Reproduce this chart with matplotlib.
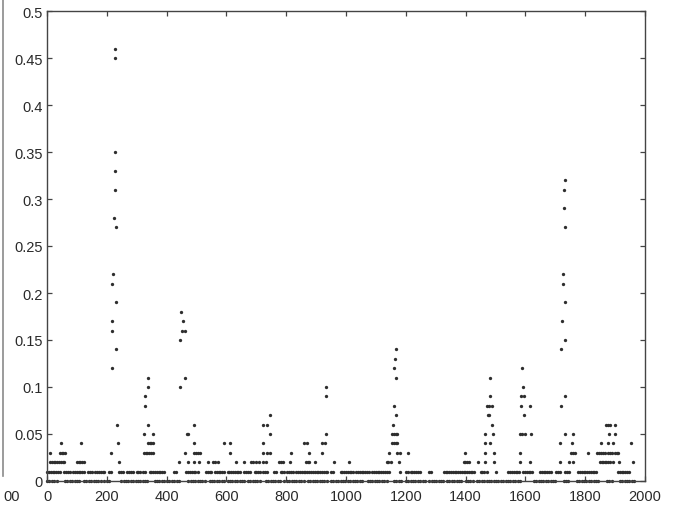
import matplotlib
matplotlib.use("Agg")
import matplotlib.pyplot as plt
from matplotlib.lines import Line2D

plt.rcParams['font.family'] = ['Liberation Sans', 'DejaVu Sans']

# dots sitting on the zero line
x_level_0 = [0, 8, 16, 24, 32, 60, 68, 76, 84, 92, 100, 108, 124, 132, 140, 148, 156, 164,
             172, 180, 192, 200, 208, 248, 256, 264, 272, 280, 288, 296, 304, 312, 320, 328,
             336, 360, 368, 376, 384, 392, 400, 408, 418, 426, 434, 442, 472, 480, 488, 496,
             504, 512, 520, 528, 544, 552, 560, 568, 576, 584, 592, 604, 612, 620, 628, 636,
             644, 652, 660, 672, 680, 688, 696, 704, 712, 732, 740, 748, 756, 764, 772, 780,
             794, 802, 810, 818, 826, 834, 842, 850, 858, 872, 880, 888, 896, 904, 912, 920,
             928, 936, 950, 958, 966, 974, 982, 990, 998, 1006, 1014, 1022, 1030, 1038, 1046,
             1054, 1072, 1080, 1088, 1096, 1104, 1112, 1120, 1128, 1136, 1160, 1168, 1176,
             1184, 1200, 1208, 1216, 1224, 1232, 1240, 1248, 1256, 1264, 1278, 1286, 1294,
             1302, 1310, 1318, 1326, 1338, 1346, 1354, 1362, 1370, 1378, 1386, 1400, 1408,
             1416, 1424, 1438, 1446, 1454, 1462, 1470, 1478, 1486, 1494, 1502, 1510, 1518,
             1526, 1534, 1542, 1550, 1558, 1566, 1574, 1582, 1628, 1636, 1644, 1652, 1660,
             1668, 1676, 1684, 1692, 1700, 1728, 1736, 1744, 1772, 1780, 1788, 1796, 1804,
             1812, 1820, 1828, 1836, 1844, 1872, 1880, 1888, 1916, 1924, 1932, 1940, 1948,
             1956, 1964]

# dots at 0.01
x_level_1 = [1, 7, 13, 19, 25, 31, 37, 43, 58, 64, 70, 77, 88, 94, 100, 106, 112, 118, 124,
             138, 144, 149, 162, 168, 174, 180, 186, 192, 207, 213, 242, 248, 254, 269, 275,
             281, 287, 300, 306, 312, 321, 327, 343, 349, 355, 361, 367, 373, 379, 385, 391,
             424, 430, 466, 472, 478, 484, 490, 496, 505, 532, 538, 544, 550, 562, 568, 574,
             580, 586, 592, 604, 610, 616, 622, 628, 634, 640, 646, 660, 666, 672, 678, 694,
             700, 706, 712, 724, 730, 736, 760, 766, 781, 787, 793, 804, 810, 816, 822, 834,
             840, 846, 852, 858, 864, 870, 876, 882, 890, 896, 902, 908, 914, 920, 926, 932,
             938, 950, 956, 982, 988, 994, 1000, 1006, 1012, 1018, 1024, 1034, 1040, 1046,
             1052, 1058, 1064, 1070, 1076, 1088, 1094, 1100, 1106, 1112, 1118, 1124, 1130,
             1138, 1144, 1182, 1199, 1208, 1216, 1222, 1228, 1234, 1240, 1246, 1278, 1284,
             1327, 1333, 1339, 1345, 1351, 1357, 1363, 1369, 1375, 1381, 1387, 1393, 1399,
             1405, 1411, 1417, 1423, 1429, 1450, 1456, 1462, 1472, 1500, 1543, 1549, 1555,
             1561, 1567, 1573, 1579, 1593, 1599, 1605, 1611, 1617, 1623, 1649, 1655, 1661,
             1667, 1673, 1679, 1685, 1704, 1710, 1716, 1734, 1740, 1746, 1777, 1783, 1789,
             1795, 1801, 1807, 1813, 1819, 1825, 1831, 1837, 1910, 1916, 1922, 1928, 1934,
             1940, 1946]

# dots at 0.02, 0.03, 0.04
x_level_2 = [10, 16, 22, 28, 34, 40, 46, 52, 58, 100, 106, 112, 118, 124, 240, 441, 473,
             491, 510, 538, 555, 563, 571, 632, 660, 682, 690, 699, 710, 721, 732, 777, 783,
             788, 812, 866, 872, 877, 897, 960, 1010, 1136, 1142, 1149, 1177, 1393, 1399,
             1405, 1410, 1443, 1466, 1494, 1582, 1616, 1716, 1747, 1760, 1849, 1855, 1860,
             1866, 1871, 1876, 1882, 1893, 1913, 1960]
x_level_3 = [10, 43, 49, 55, 60, 215, 324, 330, 336, 342, 348, 354, 462, 490, 497, 504,
             511, 613, 721, 735, 747, 816, 877, 919, 1143, 1171, 1182, 1207, 1397, 1466,
             1496, 1582, 1752, 1759, 1766, 1810, 1838, 1845, 1852, 1859, 1866, 1877, 1884,
             1891, 1898, 1905, 1910]
x_level_4 = [47, 113, 236, 337, 343, 349, 355, 490, 593, 613, 721, 860, 868, 921, 929, 1155,
             1161, 1167, 1171, 1466, 1482, 1716, 1757, 1854, 1877, 1893, 1954]

# the higher points (0.05 and up)
spike_x = [229, 228, 227, 228, 229, 224, 230, 220, 219, 230, 219, 218, 232, 216, 233,
           338, 337, 329, 329, 339, 326, 353,
           448, 456, 450, 460, 446, 460, 444, 492, 469, 473,
           721, 735, 746, 747, 932, 932, 934,
           1166, 1164, 1162, 1167, 1160, 1168, 1158, 1155, 1161, 1167, 1171,
           1481, 1480, 1471, 1477, 1488, 1474, 1478, 1488, 1466, 1491,
           1589, 1591, 1586, 1594, 1584, 1616, 1596, 1583, 1590, 1597, 1618,
           1731, 1729, 1728, 1734, 1726, 1725, 1734, 1722, 1733, 1720, 1734, 1718, 1734, 1759,
           1871, 1877, 1882, 1898, 1879, 1899]
spike_y = [0.46, 0.45, 0.35, 0.33, 0.31, 0.28, 0.27, 0.22, 0.21, 0.19, 0.17, 0.16, 0.14, 0.12, 0.06,
           0.11, 0.10, 0.09, 0.08, 0.06, 0.05, 0.05,
           0.18, 0.17, 0.16, 0.16, 0.15, 0.11, 0.10, 0.06, 0.05, 0.05,
           0.06, 0.06, 0.07, 0.05, 0.10, 0.09, 0.05,
           0.14, 0.13, 0.12, 0.11, 0.08, 0.07, 0.06, 0.05, 0.05, 0.05, 0.05,
           0.11, 0.09, 0.08, 0.08, 0.08, 0.07, 0.07, 0.06, 0.05, 0.05,
           0.12, 0.10, 0.09, 0.09, 0.08, 0.08, 0.07, 0.05, 0.05, 0.05, 0.05,
           0.32, 0.31, 0.29, 0.27, 0.22, 0.21, 0.19, 0.17, 0.15, 0.14, 0.09, 0.08, 0.05, 0.05,
           0.06, 0.06, 0.06, 0.06, 0.05, 0.05]

x_ticks = [0, 200, 400, 600, 800, 1000, 1200, 1400, 1600, 1800, 2000]
y_ticks = [0, 0.05, 0.1, 0.15, 0.2, 0.25, 0.3, 0.35, 0.4, 0.45, 0.5]
y_tick_labels = ['0', '0.05', '0.1', '0.15', '0.2', '0.25', '0.3', '0.35', '0.4', '0.45', '0.5']

ink = '#2e2e2e'
fig = plt.figure(figsize=(6.75, 5.06), dpi=100)
ax = fig.add_axes([47 / 675, 24 / 506, 598 / 675, 470 / 506])

levels = [(x_level_0, 0.0), (x_level_1, 0.01), (x_level_2, 0.02),
          (x_level_3, 0.03), (x_level_4, 0.04)]
for xs, level in levels:
    ax.plot(xs, [level] * len(xs), 'o', color=ink, ms=2.4, mew=0, clip_on=False)
ax.plot(spike_x, spike_y, 'o', color=ink, ms=2.4, mew=0, clip_on=False)

ax.set_xlim(0, 2000)
ax.set_ylim(0, 0.5)
ax.set_xticks(x_ticks)
ax.set_xticklabels([str(t) for t in x_ticks])
ax.set_yticks(y_ticks)
ax.set_yticklabels(y_tick_labels)
ax.tick_params(direction='in', top=True, right=True, length=3.6, width=0.9,
               color='#444444', labelcolor='#2a2a2a', labelsize=10.5)
ax.tick_params(axis='x', pad=6)
ax.tick_params(axis='y', pad=3)
for sp in ax.spines.values():
    sp.set_color('#444444')
    sp.set_linewidth(1.0)

# edge of the neighbouring panel, cut off by the crop
fig.add_artist(Line2D([3 / 675, 3 / 675], [29 / 506, 1.0], color='#8a8a8a', lw=1.2))
fig.text(20 / 675, 9 / 506, '00', ha='right', va='center', fontsize=10.5, color='#2a2a2a')

fig.savefig('out.png', dpi=100, facecolor='white')
